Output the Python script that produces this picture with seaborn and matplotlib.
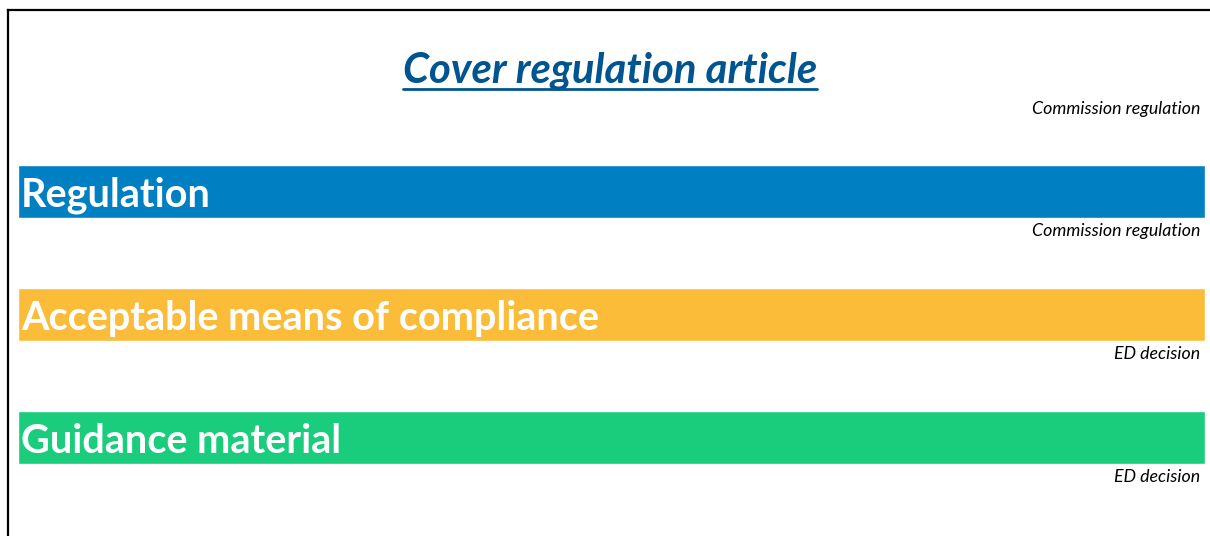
import matplotlib
matplotlib.use("Agg")
import matplotlib.pyplot as plt
import seaborn as sns

# data
categories = ["Regulation", "Acceptable means of compliance", "Guidance material"]
lengths = [1, 1, 1]
sources = ["Commission regulation", "ED decision", "ED decision"]
colors = ["#0080C2", "#FBBC39", "#19CD7C"]
title = "Cover regulation article"
title_source = "Commission regulation"

sns.set_style("white")
plt.rcParams["font.family"] = ["Lato", "DejaVu Sans"]

fig = plt.figure(figsize=(12.10, 5.36), dpi=100)
ax = fig.add_axes([8 / 1210, 0, 1 - 8 / 1210, 1 - 10 / 536])

sns.barplot(x=lengths, y=categories, hue=categories, palette=colors,
            width=0.431, orient="h", legend=False, saturation=1, ax=ax)

ax.set_xlim(-10 / 1187, 1 + 5 / 1187)
ax.set_ylim(2.8008, -1.4756)
ax.set_xticks([])
ax.set_yticks([])
ax.set_xlabel("")
ax.set_ylabel("")
for side in ["right", "bottom"]:
    ax.spines[side].set_visible(False)
for side in ["left", "top"]:
    ax.spines[side].set_visible(True)
    ax.spines[side].set_color("black")
    ax.spines[side].set_linewidth(1.6)

# labels inside bars and sources under them
for i, (cat, src) in enumerate(zip(categories, sources)):
    ax.text(3 / 1187, i + 0.03, cat, color="white", fontsize=28.5,
            fontweight="bold", va="center", ha="left")
    ax.text(0.9958, i + 0.32, src, fontsize=12.8, style="italic",
            va="center", ha="right", color="black")

ax.text(0.9958, -0.672, title_source, fontsize=12.8, style="italic",
        va="center", ha="right", color="black")

t = ax.text(0.4985, -0.98, title, fontsize=30.2, style="italic",
            fontweight="bold", color="#00548F", ha="center", va="center")

# underline under title
fig.canvas.draw()
bb = t.get_window_extent().transformed(ax.transAxes.inverted())
ax.plot([bb.x0, bb.x1], [bb.y0 + 0.002, bb.y0 + 0.002], color="#00548F",
        linewidth=2, transform=ax.transAxes, clip_on=False)

fig.savefig("out.png", dpi=100)
